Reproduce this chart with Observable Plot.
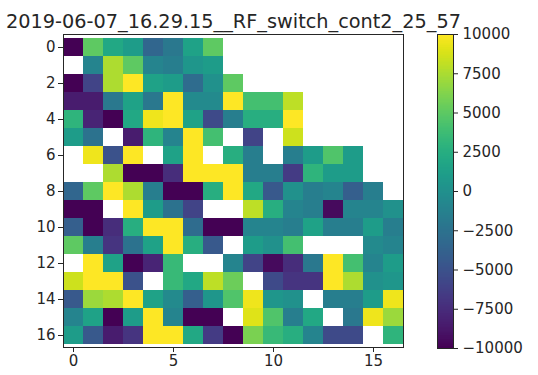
<!DOCTYPE html>
<html><head><meta charset="utf-8">
<script src="https://cdn.jsdelivr.net/npm/d3@7"></script>
<script src="https://cdn.jsdelivr.net/npm/@observablehq/plot@0.6"></script>
<style>
body{margin:0;background:#fff;font-family:"DejaVu Sans",sans-serif}
#wrap{position:relative;width:538px;height:375px;overflow:hidden}
#wrap > svg{position:absolute;top:0}
</style></head><body><div id="wrap"></div>
<script>
const title = "2019-06-07_16.29.15__RF_switch_cont2_25_57";
const columns = d3.range(0, 17);
const rowsIdx = d3.range(0, 17);
const xTicks = [0, 5, 10, 15];
const yTicks = [0, 2, 4, 6, 8, 10, 12, 14, 16];
const cbTicks = [-10000, -7500, -5000, -2500, 0, 2500, 5000, 7500, 10000];
const colorDomain = [-10000, 10000];
const _ = null;
const values = [
  [-10000, 5000, 2000, 1000, -3500, -2000, 1500, 5000, _, _, _, _, _, _, _, _, _],
  [_, -1000, 7500, 5000, -1000, -1500, 500, 1000, _, _, _, _, _, _, _, _, _],
  [-10000, -6000, 7500, 10000, 1500, 1000, -3000, 0, 5000, _, _, _, _, _, _, _, _],
  [-8500, -8500, -2000, 1500, -2000, 10000, -500, -500, 10000, 4000, 4000, 8000, _, _, _, _, _],
  [3000, -8000, -10000, 2000, 9500, 10000, 1500, -5500, -1500, 2500, 2500, 10000, _, _, _, _, _],
  [1000, -2500, _, -8500, 3000, -1000, 10000, 4000, _, -6000, _, 8500, _, _, _, _, _],
  [_, 9500, -5000, 10000, _, 1500, 10000, _, 2500, -1500, _, -1500, 1000, 4500, 1000, _, _],
  [_, _, 7500, -10000, -10000, -7500, 10000, 10000, 10000, -1500, -1500, -6500, 3000, 1000, 1000, _, _],
  [-3500, 5000, 10000, 7500, -1500, -10000, -10000, 2500, 10000, 2000, -4500, 0, -1500, -1000, -4000, -1500, _],
  [-10000, -10000, _, 10000, 1000, -2500, -6000, _, _, 8000, 2500, -1000, -1500, -9500, -1000, -1000, 0],
  [-4000, -10000, -7500, 2500, 10000, 10000, -3000, -10000, -10000, -1000, -1000, -1500, 1500, -1500, -1500, 1000, -1500],
  [5000, -1500, -7000, -2500, 1500, 10000, 2500, -4500, _, 1000, 0, 4000, _, _, _, -500, -1000],
  [_, 10000, 1500, -10000, -8000, 3500, _, _, -1000, -6000, -9500, -7500, -2000, 10000, 4000, -1000, 1000],
  [8500, 10000, 10000, -5000, _, 3500, 2000, 8000, 5500, _, -5500, -7000, -7000, 10000, 7500, 0, 500],
  [-4500, 7000, 7500, 10000, 1500, -500, -4000, 500, 4500, 9500, 500, 0, _, -1500, -1500, 1000, 9500],
  [-1000, 1500, -10000, 1000, 10000, -1000, -10000, -10000, _, 9000, 4500, -1500, 2000, _, -2000, 9500, 7000],
  [1000, -4500, -8500, -7000, 10000, 10000, 2000, -6500, -10000, 6000, 3500, 2500, -1000, -5500, -5500, _, 3000]
];

const cells = [];
values.forEach((row, r) => row.forEach((v, c) => { if (v !== null) cells.push({col: columns[c], row: rowsIdx[r], v}); }));

const textColor = "#262626";
const fontFamily = "DejaVu Sans";

const main = Plot.plot({
  width: 538, height: 375,
  marginLeft: 63, marginRight: 135, marginTop: 34, marginBottom: 28,
  x: {type: "band", domain: columns, padding: 0},
  y: {type: "band", domain: rowsIdx, padding: 0},
  color: {type: "linear", scheme: "viridis", domain: colorDomain, clamp: true},
  style: {fontSize: "15px", fontFamily, color: textColor, background: "transparent", overflow: "visible"},
  marks: [
    Plot.cell(cells, {x: "col", y: "row", fill: "v", inset: 0, shapeRendering: "crispEdges"}),
    Plot.frame({stroke: textColor, strokeWidth: 1}),
    Plot.axisX(xTicks, {anchor: "bottom", tickSize: 5, tickPadding: 3, fontSize: 15, label: null, stroke: textColor}),
    Plot.axisY(yTicks, {anchor: "left", tickSize: 5, tickPadding: 3, fontSize: 15, label: null, stroke: textColor}),
    Plot.text([title], {frameAnchor: "top", dy: -7, lineAnchor: "bottom", fontSize: 19.3, fill: textColor})
  ]
});
main.style.left = "0px";

const stripes = d3.range(colorDomain[0], colorDomain[1], 50);
const cb = Plot.plot({
  width: 101, height: 375,
  marginLeft: 0, marginRight: 85, marginTop: 34, marginBottom: 27,
  x: {domain: [0, 1], axis: null},
  y: {domain: colorDomain, axis: null},
  color: {type: "linear", scheme: "viridis", domain: colorDomain},
  style: {fontSize: "15px", fontFamily, color: textColor, background: "transparent", overflow: "visible"},
  marks: [
    Plot.rect(stripes, {x1: 0, x2: 1, y1: d => d, y2: d => d + 50, fill: d => d + 25, shapeRendering: "crispEdges"}),
    Plot.frame({stroke: textColor, strokeWidth: 1}),
    Plot.axisY(cbTicks, {anchor: "right", tickSize: 4, tickPadding: 5, fontSize: 15, label: null, tickFormat: d3.format("d"), stroke: textColor})
  ]
});
cb.style.left = "437px";

const wrap = document.getElementById("wrap");
wrap.appendChild(main);
wrap.appendChild(cb);
</script></body></html>
